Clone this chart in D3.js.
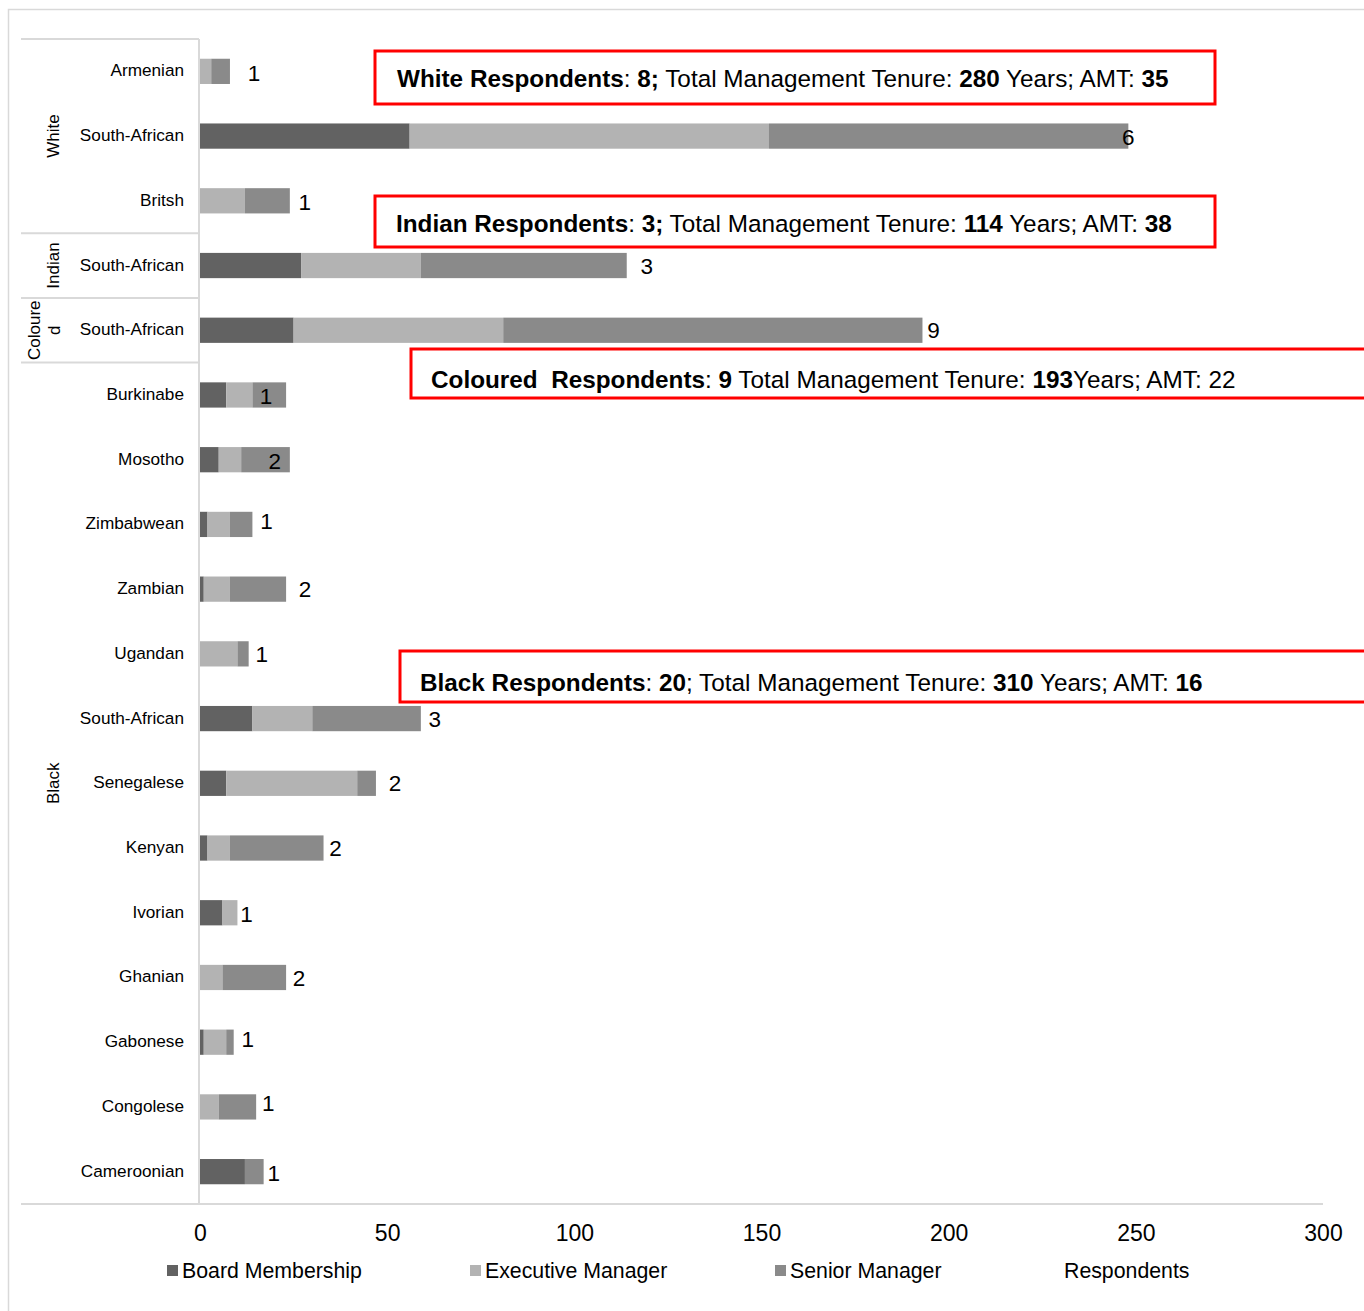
<!DOCTYPE html>
<html>
<head>
<meta charset="utf-8">
<script src="https://cdn.jsdelivr.net/npm/d3@7/dist/d3.min.js"></script>
<style>
  html, body { margin: 0; padding: 0; background: #ffffff; }
  svg { display: block; font-family: "Liberation Sans", Arial, sans-serif; }
</style>
</head>
<body>
<svg id="chart" width="1364" height="1311"></svg>
<script>
// Nationality rows, top to bottom
const nationalities = ["Armenian", "South-African", "Britsh", "South-African", "South-African",
  "Burkinabe", "Mosotho", "Zimbabwean", "Zambian", "Ugandan", "South-African", "Senegalese",
  "Kenyan", "Ivorian", "Ghanian", "Gabonese", "Congolese", "Cameroonian"];

// Race group of each row span
const groupNames = ["White", "Indian", "Coloured", "Black"];
const groupSizes = [3, 1, 1, 13];

// Years of tenure per management level
const boardMembership = [0, 56, 0, 27, 25, 7, 5, 2, 1, 0, 14, 7, 2, 6, 0, 1, 0, 12];
const executiveManager = [3, 96, 12, 32, 56, 7, 6, 6, 7, 10, 16, 35, 6, 4, 6, 6, 5, 0];
const seniorManager = [5, 96, 12, 55, 112, 9, 13, 6, 15, 3, 29, 5, 25, 0, 17, 2, 10, 5];

// Number of respondents per row
const respondents = [1, 6, 1, 3, 9, 1, 2, 1, 2, 1, 3, 2, 2, 1, 2, 1, 1, 1];

// Axis ticks
const xTicks = [0, 50, 100, 150, 200, 250, 300];

// Group summary boxes
const summaries = [
  { group: "White", count: "8;", tenure: "280", amt: "35" },
  { group: "Indian", count: "3;", tenure: "114", amt: "38" },
  { group: "Coloured", count: "9", tenure: "193", amt: "22" },
  { group: "Black", count: "20", tenure: "310", amt: "16" }
];

const seriesNames = ["Board Membership", "Executive Manager", "Senior Manager"];
const seriesColors = ["#626262", "#b3b3b3", "#8a8a8a"];

// Hand-placed offsets of the respondent count labels (px from bar end)
const labelDx = [24, 0, 15, 20, 11, -20, -15, 14, 19, 13, 14, 19, 12, 9, 13, 14, 12, 10];
const labelDy = [2, 1, 1, 0, 0, 1, 1, -4, 0, 0, 0, 0, 0, 1, 0, -3, -4, 1];

const svg = d3.select("#chart");
const gridColor = "#d9d9d9";

// Outer chart frame
svg.append("rect")
  .attr("x", 8.5).attr("y", 9.5).attr("width", 1500).attr("height", 1500)
  .attr("fill", "none").attr("stroke", gridColor).attr("stroke-width", 1.5);

const rows = nationalities.map((n, i) => ({
  key: i, name: n,
  vals: [boardMembership[i], executiveManager[i], seniorManager[i]],
  resp: respondents[i]
}));

const x = d3.scaleLinear().domain([0, 300]).range([200, 1323]);
const y = d3.scaleBand().domain(rows.map(r => r.key)).range([39, 1204])
  .paddingInner(0.61).paddingOuter(0.305);
const step = y.step();

// Stacked bars
const stack = d3.stack().keys([0, 1, 2]).value((d, k) => d.vals[k]);
const stacked = stack(rows);

svg.append("g").selectAll("g").data(stacked).join("g")
  .attr("fill", (d, i) => seriesColors[i])
  .selectAll("rect").data(d => d).join("rect")
  .attr("x", d => x(d[0]))
  .attr("y", d => y(d.data.key))
  .attr("width", d => Math.max(0, x(d[1]) - x(d[0])))
  .attr("height", y.bandwidth());

// Category axis frame
const axisG = svg.append("g").attr("stroke", gridColor).attr("stroke-width", 2);
const yStart = y.range()[0];
let acc = 0;
const boundaries = [yStart];
groupSizes.forEach(s => { acc += s; boundaries.push(yStart + acc * step); });
boundaries.slice(0, -1).forEach(b => {
  axisG.append("line").attr("x1", 21).attr("x2", 199).attr("y1", b).attr("y2", b);
});
axisG.append("line").attr("x1", 21).attr("x2", 1323)
  .attr("y1", boundaries[boundaries.length - 1]).attr("y2", boundaries[boundaries.length - 1]);
axisG.append("line").attr("x1", 199).attr("x2", 199)
  .attr("y1", yStart).attr("y2", boundaries[boundaries.length - 1]);

// Category labels
svg.append("g").selectAll("text").data(rows).join("text")
  .attr("x", 184)
  .attr("y", d => y(d.key) + y.bandwidth() / 2 - 1)
  .attr("dy", "0.35em")
  .attr("text-anchor", "end")
  .attr("font-size", 17.2)
  .attr("fill", "#000")
  .text(d => d.name);

// Group labels (rotated)
groupNames.forEach((g, i) => {
  const cy = (boundaries[i] + boundaries[i + 1]) / 2;
  const t = svg.append("text")
    .attr("transform", `translate(53,${cy}) rotate(-90)`)
    .attr("text-anchor", "middle")
    .attr("font-size", 17)
    .attr("fill", "#000");
  if (g === "Coloured") {
    // narrow span: label wraps onto two lines
    t.append("tspan").attr("x", 0).attr("dy", "-0.85em").text("Coloure");
    t.append("tspan").attr("x", 0).attr("dy", "1.2em").text("d");
    t.attr("transform", `translate(54,${cy}) rotate(-90)`);
  } else {
    t.attr("dy", "0.35em").text(g);
  }
});

// Respondent count labels
svg.append("g").selectAll("text").data(rows).join("text")
  .attr("x", (d, i) => x(d3.sum(d.vals)) + labelDx[i])
  .attr("y", (d, i) => y(d.key) + y.bandwidth() / 2 + labelDy[i])
  .attr("dy", "0.36em")
  .attr("text-anchor", "middle")
  .attr("font-size", 22.5)
  .attr("fill", "#000")
  .text(d => d.resp);

// X axis
const xAxis = svg.append("g")
  .attr("transform", "translate(0,1204)")
  .call(d3.axisBottom(x).tickValues(xTicks).tickSize(0).tickPadding(21));
xAxis.select(".domain").remove();
xAxis.selectAll("text")
  .attr("font-size", 23)
  .attr("font-family", "\"Liberation Sans\", Arial, sans-serif")
  .attr("fill", "#000");

// Legend
const legendItems = [
  { name: seriesNames[0], color: seriesColors[0], x: 167 },
  { name: seriesNames[1], color: seriesColors[1], x: 470 },
  { name: seriesNames[2], color: seriesColors[2], x: 775 },
  { name: "Respondents", color: null, x: 1049 }
];
const leg = svg.append("g");
legendItems.forEach(it => {
  if (it.color) {
    leg.append("rect").attr("x", it.x).attr("y", 1265).attr("width", 11).attr("height", 11)
      .attr("fill", it.color);
  }
  leg.append("text").attr("x", it.x + 15).attr("y", 1270).attr("dy", "0.36em")
    .attr("font-size", 21.3).attr("fill", "#000").text(it.name);
});

// Summary boxes (ty = text baseline centre)
const boxLayout = {
  White: { x: 375, y: 51, w: 840, h: 53, tx: 397, ty: 78 },
  Indian: { x: 375, y: 196, w: 840, h: 51, tx: 396, ty: 223 },
  Coloured: { x: 411, y: 349, w: 1000, h: 49, tx: 431, ty: 379 },
  Black: { x: 400, y: 651, w: 1000, h: 51, tx: 420, ty: 682 }
};
summaries.forEach(s => {
  const b = boxLayout[s.group];
  svg.append("rect").attr("x", b.x).attr("y", b.y).attr("width", b.w).attr("height", b.h)
    .attr("fill", "#fff").attr("stroke", "#ff0000").attr("stroke-width", 3);
  const t = svg.append("text").attr("x", b.tx).attr("y", b.ty).attr("dy", "0.36em")
    .attr("font-size", 24.3).attr("fill", "#000");
  const parts = s.group === "Coloured"
    ? [["Coloured  Respondents", 1], [": ", 0], [s.count, 1], [" Total Management Tenure: ", 0],
       [s.tenure, 1], ["Years; AMT: " + s.amt, 0]]
    : s.group === "Black"
    ? [["Black Respondents", 1], [": ", 0], [s.count, 1], ["; Total Management Tenure: ", 0],
       [s.tenure, 1], [" Years; AMT: ", 0], [s.amt, 1]]
    : [[s.group + " Respondents", 1], [": ", 0], [s.count, 1], [" Total Management Tenure: ", 0],
       [s.tenure, 1], [" Years; AMT: ", 0], [s.amt, 1]];
  parts.forEach(([txt, bold]) => {
    t.append("tspan").attr("font-weight", bold ? "bold" : "normal")
      .style("white-space", "pre").text(txt);
  });
  t.attr("xml:space", "preserve");
});
</script>
</body>
</html>
